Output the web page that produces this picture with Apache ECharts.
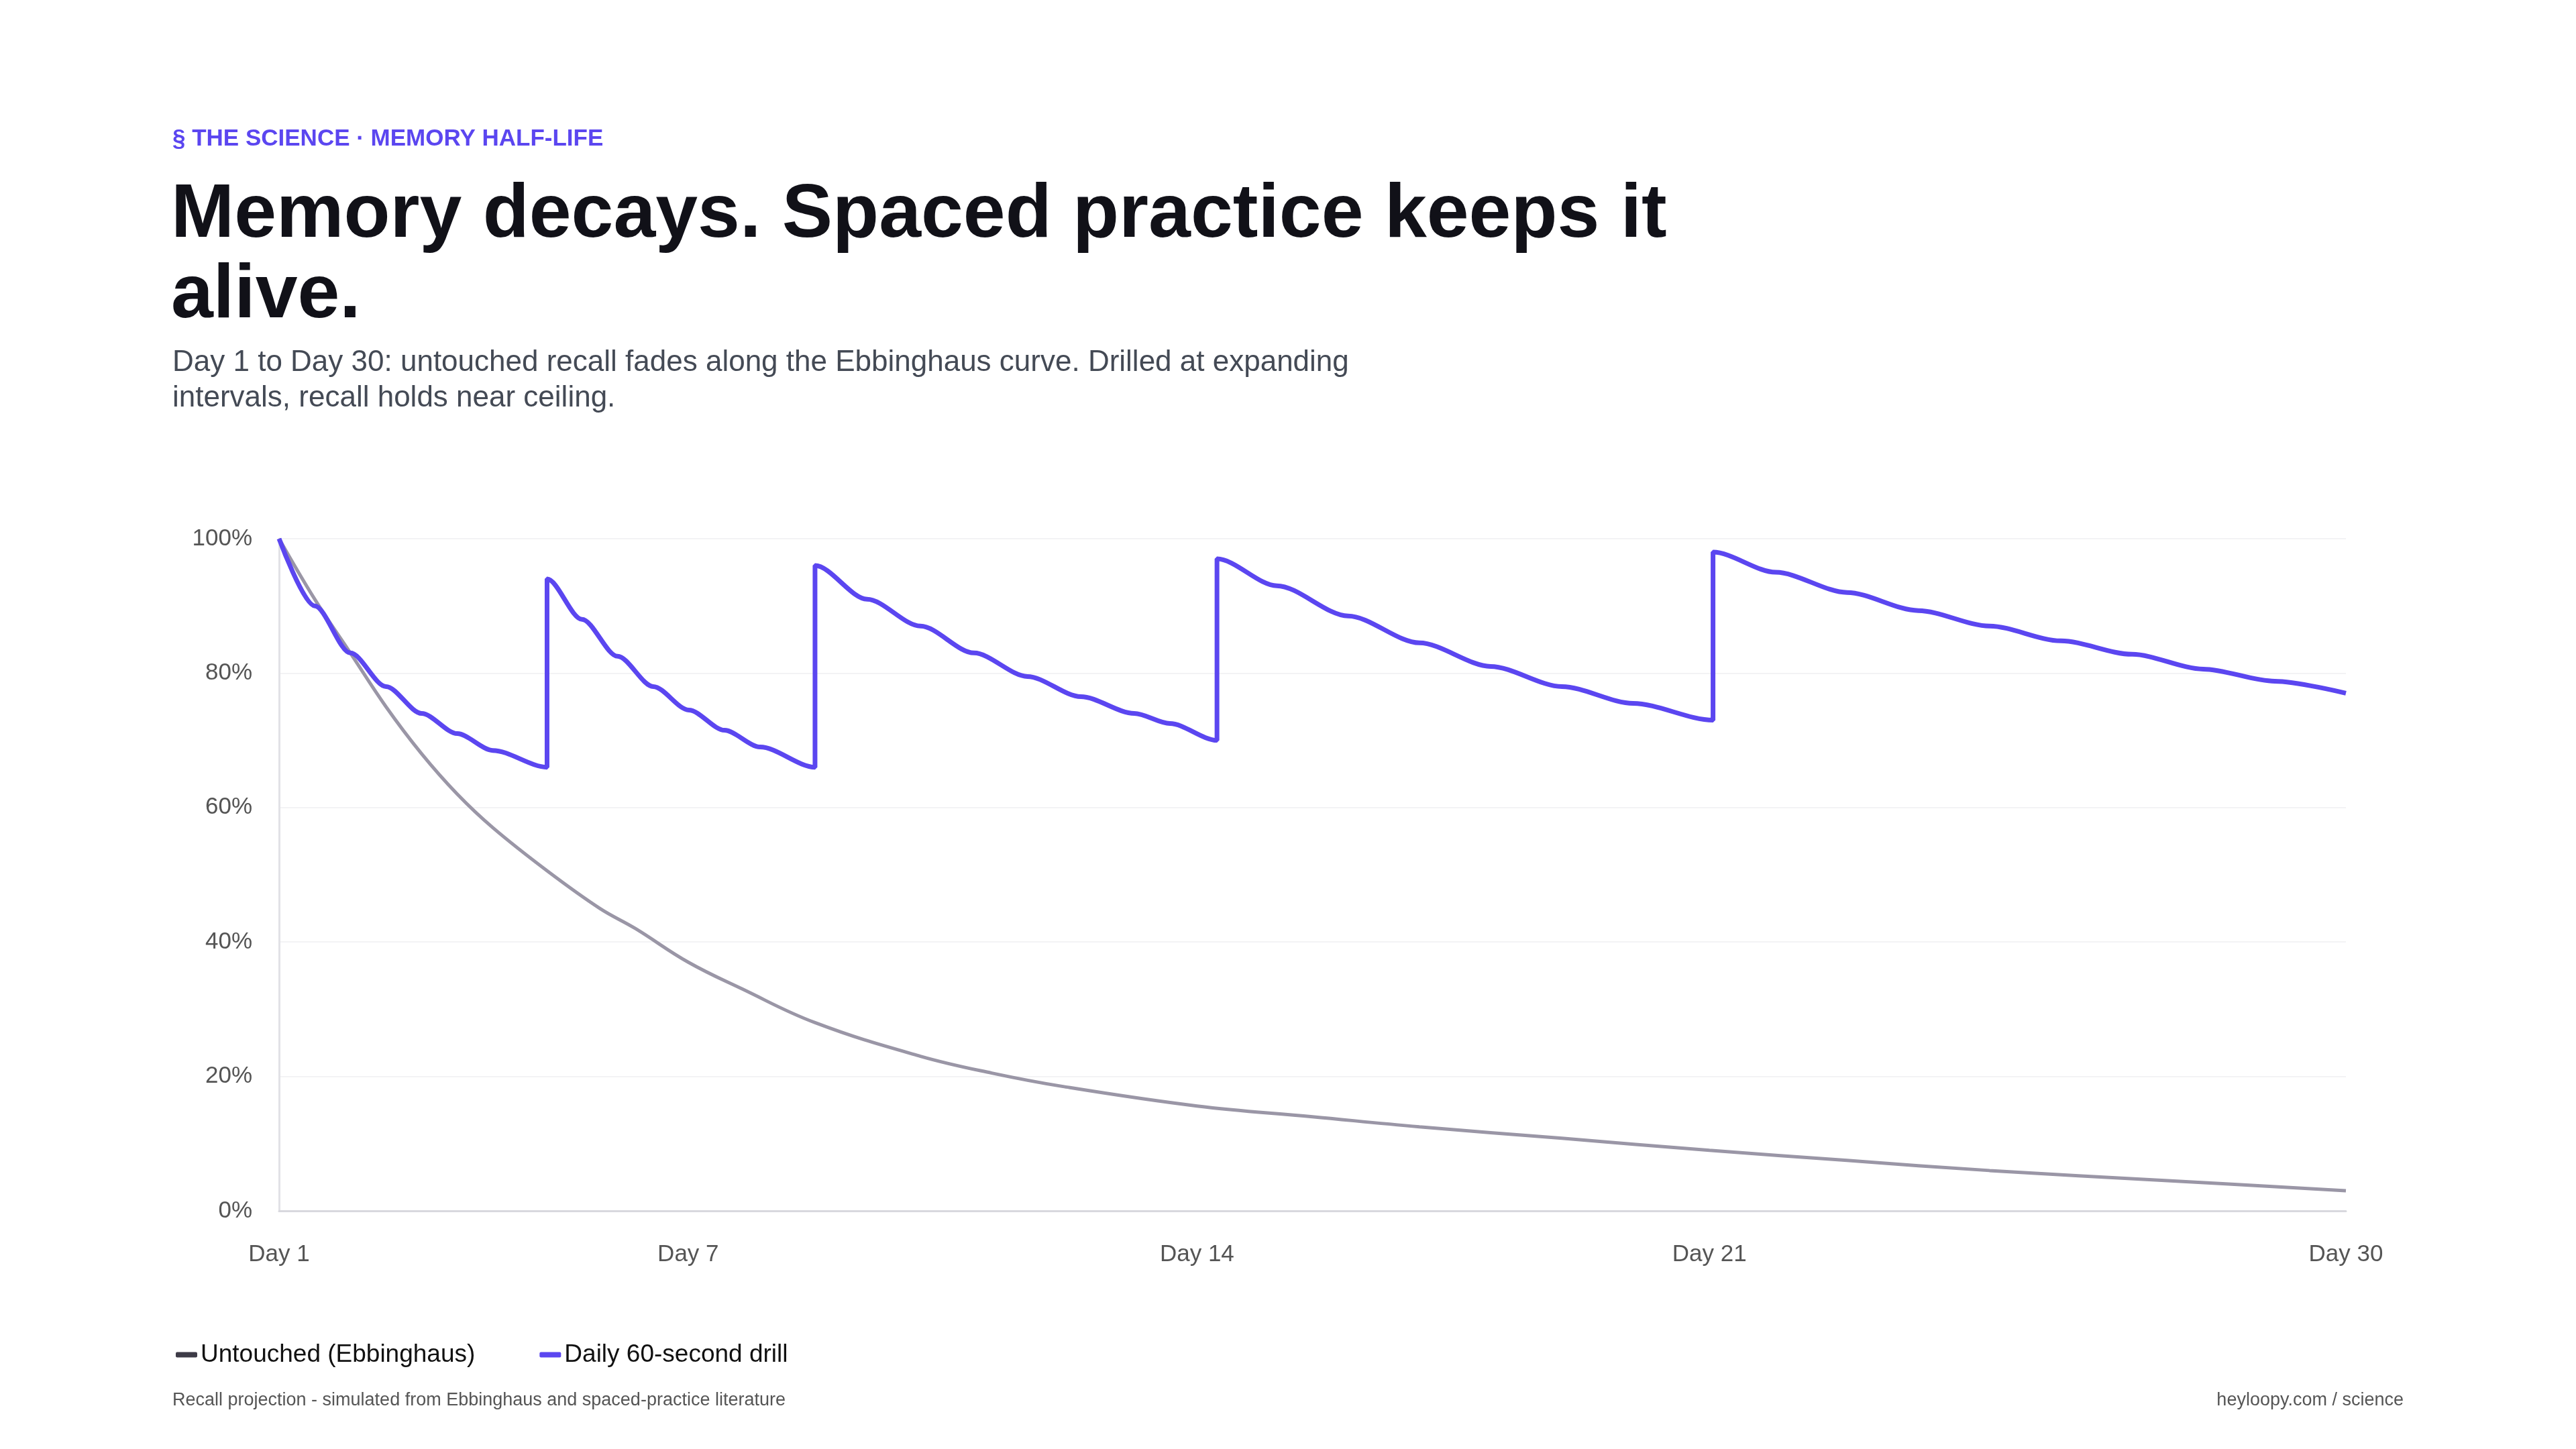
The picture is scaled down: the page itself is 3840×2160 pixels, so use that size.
<!DOCTYPE html>
<html><head><meta charset="utf-8">
<script src="https://cdn.jsdelivr.net/npm/echarts@6/dist/echarts.min.js"></script>
<style>html,body{margin:0;padding:0;background:#fff}#c{width:3840px;height:2160px}</style>
</head><body><div id="c"></div>
<script>
const xTickValues = [1, 6.74, 13.88, 21.07, 30];
const xTickLabels = ['Day 1', 'Day 7', 'Day 14', 'Day 21', 'Day 30'];
const untouched = [[1,100],[1.5,91],[2,83],[2.5,75],[3,68],[3.5,62],[4,57],[4.76,50.6],[5.5,45],[6,42],[6.74,37],[7.5,33],[8.52,28],[10,23],[11,20.5],[12,18.5],[13.88,15.6],[15.5,14],[17,12.5],[19,10.8],[21.07,9],[23,7.5],[25,6],[27.5,4.5],[30,3]];
const drill = [[1,100],[1.5,90],[2,83],[2.5,78],[3,74],[3.5,71],[4,68.5],[4.76,66],
  [4.76,94],[5.25,88],[5.75,82.5],[6.25,78],[6.75,74.5],[7.25,71.5],[7.75,69],[8.52,66],
  [8.52,96],[9.25,91],[10,87],[10.75,83],[11.5,79.5],[12.25,76.5],[13,74],[13.5,72.5],[14.16,70],
  [14.16,97],[15,93],[16,88.5],[17,84.5],[18,81],[19,78],[20,75.5],[21.12,73],
  [21.12,98],[22,95],[23,92],[24,89.3],[25,87],[26,84.8],[27,82.8],[28,80.6],[29,78.8],[30,77]];
const yTicks = [0,20,40,60,80,100];
const F = 'Liberation Sans, Arial, sans-serif';
const chart = echarts.init(document.getElementById('c'));
chart.setOption({
  backgroundColor:'#fff',
  animation:false,
  textStyle:{fontFamily:F},
  graphic:[
    {type:'text',left:257,top:190,style:{text:'§ THE SCIENCE · MEMORY HALF-LIFE',fill:'#5b46f0',font:'bold 35px '+F,letterSpacing:3}},
    {type:'text',left:255,top:262,style:{text:'Memory decays. Spaced practice keeps it\nalive.',fill:'#111118',font:'bold 113px '+F,lineHeight:120}},
    {type:'text',left:257,top:514,style:{text:'Day 1 to Day 30: untouched recall fades along the Ebbinghaus curve. Drilled at expanding\nintervals, recall holds near ceiling.',fill:'#444a55',font:'44px '+F,lineHeight:53}},
    {type:'text',left:257,top:2074,style:{text:'Recall projection - simulated from Ebbinghaus and spaced-practice literature',fill:'#555',font:'27px '+F}},
    {type:'text',right:257,top:2074,style:{text:'heyloopy.com / science',fill:'#555',font:'27px '+F,align:'right'}}
  ],
  legend:{left:257,top:1996,itemWidth:32,itemHeight:8,itemGap:96,icon:'roundRect',
    textStyle:{fontSize:37,color:'#111',fontFamily:F},
    data:[{name:'Untouched (Ebbinghaus)',itemStyle:{color:'#3d3b47'}},{name:'Daily 60-second drill',itemStyle:{color:'#5b46f0'}}]},
  grid:{left:416,right:343,top:803,bottom:355},
  xAxis:{type:'value',min:1,max:30,
    axisLine:{show:true,lineStyle:{color:'#d8d8de',width:3}},
    axisTick:{show:false},splitLine:{show:false},
    axisLabel:{customValues:xTickValues,color:'#555',fontSize:35,margin:48,
      formatter:v=>{const i=xTickValues.findIndex(t=>Math.abs(t-v)<1e-6);return i>=0?xTickLabels[i]:'';}}},
  yAxis:{type:'value',min:0,max:100,interval:20,
    axisLine:{show:true,lineStyle:{color:'#e2e2e6',width:3}},
    axisTick:{show:false},
    splitLine:{lineStyle:{color:'#f3f3f5',width:2}},
    axisLabel:{color:'#555',fontSize:35,margin:40,formatter:v=>yTicks.includes(v)?v+'%':''}},
  series:[
    {name:'Untouched (Ebbinghaus)',type:'line',data:untouched,smooth:0.4,showSymbol:false,
      lineStyle:{color:'#9a96a6',width:5},itemStyle:{color:'#9a96a6'}},
    {name:'Daily 60-second drill',type:'line',data:drill,smooth:0.3,smoothMonotone:'x',showSymbol:false,
      lineStyle:{color:'#5b46f0',width:7},itemStyle:{color:'#5b46f0'}}
  ]
});
</script></body></html>
